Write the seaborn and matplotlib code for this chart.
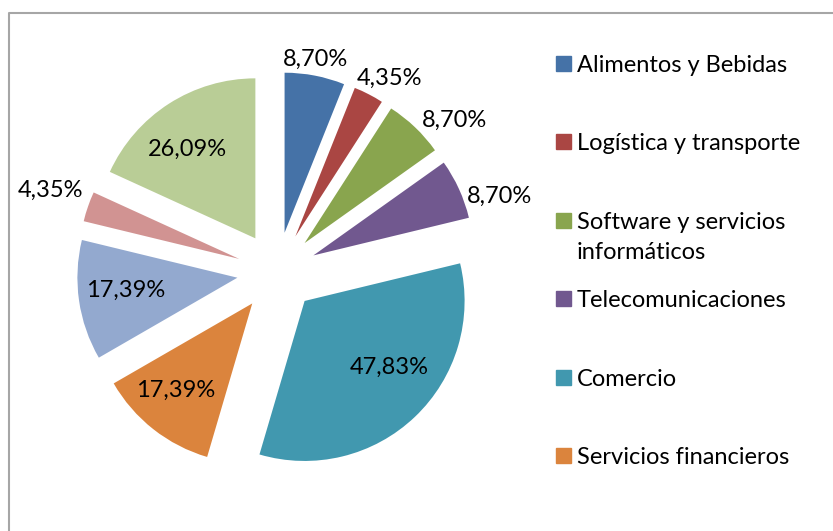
import numpy as np
import seaborn as sns
import matplotlib.pyplot as plt
from matplotlib.patches import Rectangle
from matplotlib.lines import Line2D

# Datos del gráfico (los tres últimos sectores no aparecen en la leyenda)
sectores = ["Alimentos y Bebidas", "Logística y transporte",
            "Software y servicios\ninformáticos", "Telecomunicaciones",
            "Comercio", "Servicios financieros",
            "Sector 7", "Sector 8", "Sector 9"]
porcentajes = [8.70, 4.35, 8.70, 8.70, 47.83, 17.39, 17.39, 4.35, 26.09]
colores = ["#4572A7", "#AA4643", "#89A54E", "#71588F", "#4198AF",
           "#DB843D", "#93A9CF", "#D19392", "#B9CD96"]
n_leyenda = 6

# desplazamiento (px) de cada etiqueta respecto al punto medio del arco del sector
desplaz_etiquetas = [(1, 16), (21, 16), (39, 7), (41, -7), (-26, 49),
                     (22, 39), (47, 10), (-38, 16), (19, -46)]

sns.set_theme(style="white")
plt.rcParams['font.family'] = ['Lato', 'DejaVu Sans']
paleta = sns.color_palette(colores)

W, H = 833, 531
fig = plt.figure(figsize=(W / 100, H / 100), dpi=100)
fig.patch.set_facecolor('white')

# pie geometry in pixels
R = 160
cx, cy = 277, 272
half = 250
explode = 0.25
ax = fig.add_axes([(cx - half) / W, (H - cy - half) / H, 2 * half / W, 2 * half / H])
wedges, _ = ax.pie(porcentajes, colors=paleta, startangle=90, counterclock=False,
                   explode=[explode] * len(porcentajes),
                   wedgeprops=dict(linewidth=0))
ax.set_xlim(-half / R, half / R)
ax.set_ylim(-half / R, half / R)
ax.axis('off')

# etiquetas de porcentaje ancladas al arco de cada sector
for w, v, off in zip(wedges, porcentajes, desplaz_etiquetas):
    ang = np.deg2rad((w.theta1 + w.theta2) / 2)
    px = w.center[0] + w.r * np.cos(ang)
    py = w.center[1] + w.r * np.sin(ang)
    ax.annotate(f"{v:.2f}".replace('.', ',') + '%', xy=(px, py), xytext=off,
                textcoords='offset pixels', ha='center', va='center',
                fontsize=17, color='black')

# leyenda manual (estilo Excel, entradas espaciadas uniformemente)
for i in range(n_leyenda):
    base = 72 + i * 78.4
    fig.patches.append(Rectangle((556 / W, 1 - (base - 1) / H), 15 / W, 15 / H,
                                 transform=fig.transFigure, color=paleta[i]))
    for j, linea in enumerate(sectores[i].split('\n')):
        fig.text(577 / W, 1 - (base + j * 30) / H, linea, ha='left', va='baseline',
                 fontsize=17, color='black')

# borde del área del gráfico
fig.add_artist(Line2D([9 / W, 9 / W, 1], [0, 1 - 13 / H, 1 - 13 / H],
                      transform=fig.transFigure, color='#A6A6A6', lw=1.5))

fig.savefig('out.png', dpi=100)
